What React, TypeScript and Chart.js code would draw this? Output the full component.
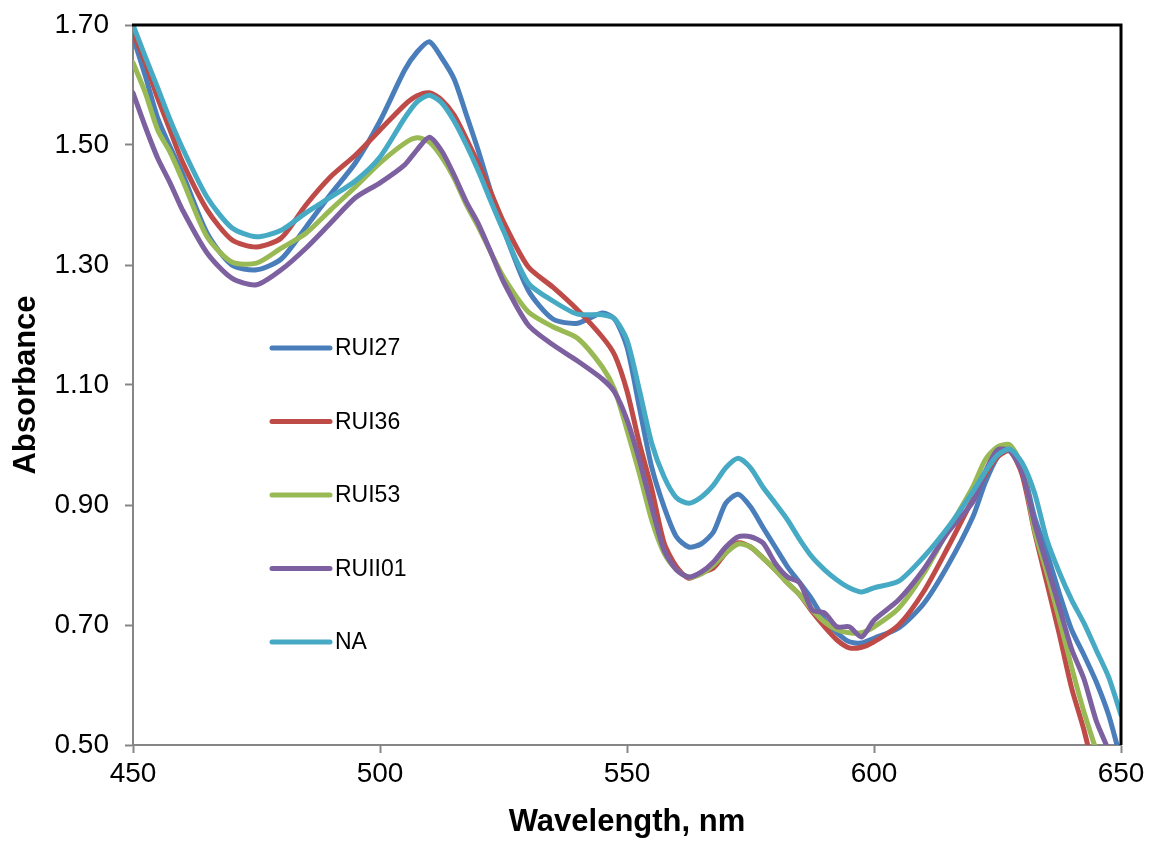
import React, { useEffect, useRef } from "react";
import { Chart, registerables } from "chart.js";

Chart.register(...registerables);

const wavelengths = [
  450, 452.5, 455, 457.5, 460, 465, 470, 475, 480, 485, 490, 495, 500, 505, 507.5, 510,
  512.5, 515, 517.5, 520, 522.5, 525, 530, 535, 540, 545, 547.5, 550, 552.5, 555, 557.5,
  560, 562.5, 565, 567.5, 570, 572.5, 575, 577.5, 580, 582.5, 585, 587.5, 590, 592.5, 595,
  597.5, 600, 605, 610, 615, 620, 622.5, 625, 627.5, 630, 632.5, 635, 637.5, 640, 642.5,
  645, 647.5, 650,
];

const rui27 = [
  1.68, 1.615, 1.545, 1.497, 1.453, 1.353, 1.3, 1.292, 1.31, 1.363, 1.418, 1.47, 1.54, 1.625,
  1.655, 1.672, 1.645, 1.61, 1.55, 1.488, 1.42, 1.36, 1.258, 1.21, 1.203, 1.22, 1.21, 1.163,
  1.063, 0.963, 0.897, 0.847, 0.83, 0.835, 0.855, 0.903, 0.918, 0.897, 0.863, 0.83, 0.797,
  0.77, 0.742, 0.708, 0.687, 0.672, 0.67, 0.678, 0.695, 0.735, 0.8, 0.88, 0.937, 0.98, 0.997,
  0.963, 0.88, 0.82, 0.753, 0.692, 0.65, 0.605, 0.55, 0.475,
];

const rui36 = [
  1.687, 1.637, 1.578, 1.525, 1.472, 1.392, 1.342, 1.33, 1.345, 1.4, 1.447, 1.483, 1.525,
  1.567, 1.582, 1.587, 1.575, 1.55, 1.51, 1.467, 1.42, 1.372, 1.297, 1.263, 1.225, 1.18, 1.15,
  1.09, 1.003, 0.927, 0.837, 0.797, 0.778, 0.787, 0.795, 0.82, 0.837, 0.83, 0.812, 0.792, 0.77,
  0.75, 0.722, 0.697, 0.675, 0.662, 0.663, 0.672, 0.7, 0.755, 0.83, 0.91, 0.95, 0.98, 0.99,
  0.95, 0.855, 0.77, 0.685, 0.595, 0.525, 0.44, 0.36, 0.28,
];

const rui53 = [
  1.637, 1.587, 1.525, 1.488, 1.442, 1.347, 1.305, 1.303, 1.328, 1.353, 1.392, 1.43, 1.47,
  1.503, 1.512, 1.505, 1.48, 1.445, 1.4, 1.362, 1.32, 1.28, 1.222, 1.197, 1.178, 1.13, 1.092,
  1.025, 0.953, 0.875, 0.82, 0.792, 0.78, 0.785, 0.8, 0.82, 0.835, 0.83, 0.812, 0.792, 0.77,
  0.75, 0.725, 0.705, 0.692, 0.687, 0.687, 0.697, 0.728, 0.785, 0.858, 0.93, 0.975, 0.997, 1.0,
  0.963, 0.858, 0.787, 0.71, 0.63, 0.555, 0.49, 0.42, 0.34,
];

const ruii01 = [
  1.587, 1.53, 1.478, 1.437, 1.392, 1.32, 1.278, 1.267, 1.292, 1.328, 1.37, 1.412, 1.437,
  1.467, 1.492, 1.513, 1.49, 1.45, 1.405, 1.367, 1.32, 1.272, 1.2, 1.167, 1.14, 1.11, 1.088,
  1.042, 0.975, 0.897, 0.825, 0.792, 0.78, 0.788, 0.805, 0.83, 0.847, 0.847, 0.837, 0.803, 0.78,
  0.77, 0.725, 0.72, 0.697, 0.697, 0.68, 0.708, 0.742, 0.792, 0.855, 0.905, 0.955, 0.992, 0.99,
  0.955, 0.87, 0.8, 0.73, 0.66, 0.61, 0.54, 0.49, 0.42,
];

const na = [
  1.7, 1.647, 1.595, 1.542, 1.495, 1.413, 1.362, 1.347, 1.358, 1.387, 1.413, 1.44, 1.48, 1.545,
  1.572, 1.583, 1.57, 1.54, 1.5, 1.455, 1.405, 1.357, 1.27, 1.24, 1.218, 1.217, 1.21, 1.175,
  1.092, 1.003, 0.947, 0.912, 0.903, 0.913, 0.933, 0.962, 0.978, 0.962, 0.93, 0.903, 0.875,
  0.842, 0.813, 0.792, 0.775, 0.762, 0.755, 0.762, 0.773, 0.813, 0.863, 0.922, 0.955, 0.983,
  0.993, 0.97, 0.92, 0.842, 0.788, 0.742, 0.703, 0.658, 0.613, 0.55,
];

const seriesNames = ["RUI27", "RUI36", "RUI53", "RUII01", "NA"];
const seriesValues = [rui27, rui36, rui53, ruii01, na];
const seriesColors = ["#4A7EBB", "#BE4B48", "#98B954", "#7D60A0", "#46AAC5"];

const xMin = 450;
const xMax = 650;
const xStep = 50;
const yMin = 0.5;
const yMax = 1.7;
const yStep = 0.2;

const FONT = "'Liberation Sans', Arial, sans-serif";

const framePlugin = {
  id: "frame",
  afterDatasetsDraw(chart: any) {
    const { ctx, chartArea } = chart;
    const { left, top, right, bottom } = chartArea;
    ctx.save();
    ctx.strokeStyle = "#000000";
    ctx.lineWidth = 3;
    ctx.beginPath();
    ctx.moveTo(left - 1, top);
    ctx.lineTo(right, top);
    ctx.lineTo(right, bottom);
    ctx.stroke();
    ctx.restore();
  },
};

const insideLegendPlugin = {
  id: "insideLegend",
  afterDraw(chart: any, _args: any, opts: any) {
    const { ctx } = chart;
    ctx.save();
    chart.data.datasets.forEach((ds: any, i: number) => {
      const y = opts.top + i * opts.spacing;
      ctx.strokeStyle = ds.borderColor;
      ctx.lineWidth = 5;
      ctx.lineCap = "round";
      ctx.beginPath();
      ctx.moveTo(opts.left, y);
      ctx.lineTo(opts.left + opts.lineLength, y);
      ctx.stroke();
      ctx.fillStyle = "#000000";
      ctx.font = `${opts.fontSize}px ${FONT}`;
      ctx.textBaseline = "middle";
      ctx.textAlign = "left";
      ctx.fillText(ds.label, opts.left + opts.lineLength + 5, y + 1);
    });
    ctx.restore();
  },
};

export default function App() {
  const canvasRef = useRef<HTMLCanvasElement | null>(null);

  useEffect(() => {
    document.body.style.margin = "0";
    const canvas = canvasRef.current;
    if (!canvas) return;
    const chart = new Chart(canvas, {
      type: "line",
      data: {
        datasets: seriesNames.map((name, i) => ({
          label: name,
          data: wavelengths.map((w, j) => ({ x: w, y: seriesValues[i][j] })),
          borderColor: seriesColors[i],
          backgroundColor: seriesColors[i],
          borderWidth: 5,
          pointRadius: 0,
          tension: 0.25,
          borderJoinStyle: "round",
          borderCapStyle: "round",
          order: seriesNames.length - 1 - i,
          clip: 0,
        })),
      },
      options: {
        animation: false,
        responsive: false,
        devicePixelRatio: 1,
        layout: { padding: { top: 25, right: 28, left: 0, bottom: 0 } },
        plugins: {
          legend: { display: false },
          tooltip: { enabled: false },
          insideLegend: { left: 272, top: 348, spacing: 73.5, lineLength: 58, fontSize: 23 },
        } as any,
        scales: {
          x: {
            type: "linear",
            min: xMin,
            max: xMax,
            afterFit: (s: any) => {
              s.height = 96;
              s.paddingLeft = 0;
              s.paddingRight = 0;
            },
            ticks: {
              stepSize: xStep,
              color: "#000000",
              font: { family: FONT, size: 28 },
              padding: 4,
              maxRotation: 0,
            },
            grid: {
              drawOnChartArea: false,
              drawTicks: true,
              tickLength: 8,
              tickColor: "#868686",
              tickWidth: 2,
            },
            border: { display: true, color: "#868686", width: 2 },
            title: {
              display: true,
              text: "Wavelength, nm",
              color: "#000000",
              font: { family: FONT, size: 31, weight: "bold" },
              padding: { top: 0, bottom: 0 },
            },
          },
          y: {
            type: "linear",
            min: yMin,
            max: yMax,
            afterFit: (s: any) => {
              s.width = 133;
              s.paddingTop = 0;
              s.paddingBottom = 0;
            },
            ticks: {
              stepSize: yStep,
              color: "#000000",
              font: { family: FONT, size: 28 },
              padding: 16,
              callback: (v: any) => Number(v).toFixed(2),
            },
            grid: {
              drawOnChartArea: false,
              drawTicks: true,
              tickLength: 8,
              tickColor: "#868686",
              tickWidth: 2,
            },
            border: { display: true, color: "#868686", width: 2 },
            title: {
              display: true,
              text: "Absorbance",
              color: "#000000",
              font: { family: FONT, size: 31, weight: "bold" },
              padding: { top: 8, bottom: 0 },
            },
          },
        },
      } as any,
      plugins: [framePlugin, insideLegendPlugin],
    });
    return () => chart.destroy();
  }, []);

  return (
    <div style={{ position: "fixed", left: 0, top: 0, width: 1149, height: 841, background: "#ffffff" }}>
      <canvas ref={canvasRef} width={1149} height={841} />
    </div>
  );
}
